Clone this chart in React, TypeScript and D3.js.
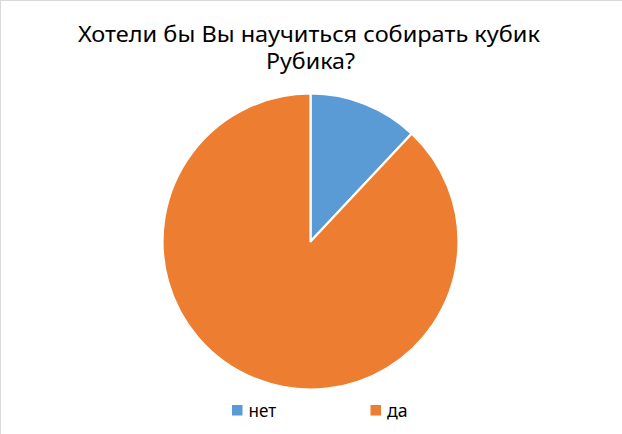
import React from "react";
import * as d3 from "d3";

const title = ["Хотели бы Вы научиться собирать кубик", "Рубика?"];
const categories = ["нет", "да"];
const values = [12, 88];
const colors = ["#5B9BD5", "#ED7D31"];

const W = 622;
const H = 434;

export default function App() {
  const cx = 310.5;
  const cy = 241.5;
  const r = 148;
  const pie = d3
    .pie<number>()
    .sort(null)
    .startAngle(0)
    .endAngle(2 * Math.PI)
    .value((d) => d);
  const arcs = pie(values);
  const arc = d3.arc<d3.PieArcDatum<number>>().innerRadius(0).outerRadius(r);

  const legendX = [232, 370.5];
  const legendTextW = [27.6, 20.6];

  return (
    <svg
      width={W}
      height={H}
      style={{ position: "absolute", left: 0, top: 0, background: "#fff" }}
      fontFamily="'Noto Sans', sans-serif"
    >
      <rect x={0.5} y={0.5} width={W + 10} height={H + 10} fill="#fff" stroke="#d9d9d9" />
      <text x={309} y={42} fontSize={21.5} textAnchor="middle" fill="#000" textLength={462} lengthAdjust="spacingAndGlyphs">
        {title[0]}
      </text>
      <text x={310.5} y={68.5} fontSize={21.5} textAnchor="middle" fill="#000" textLength={89} lengthAdjust="spacingAndGlyphs">
        {title[1]}
      </text>
      <g transform={`translate(${cx},${cy})`}>
        {arcs.map((a, i) => (
          <path key={i} d={arc(a) || ""} fill={colors[i]} stroke="#fff" strokeWidth={2.2} strokeLinejoin="round" />
        ))}
      </g>
      {categories.map((c, i) => (
        <g key={c}>
          <rect x={legendX[i]} y={405} width={10.5} height={10.5} fill={colors[i]} />
          <text x={legendX[i] + 16.5} y={416.5} fontSize={18.5} fill="#000" textLength={legendTextW[i]} lengthAdjust="spacingAndGlyphs">
            {c}
          </text>
        </g>
      ))}
    </svg>
  );
}
